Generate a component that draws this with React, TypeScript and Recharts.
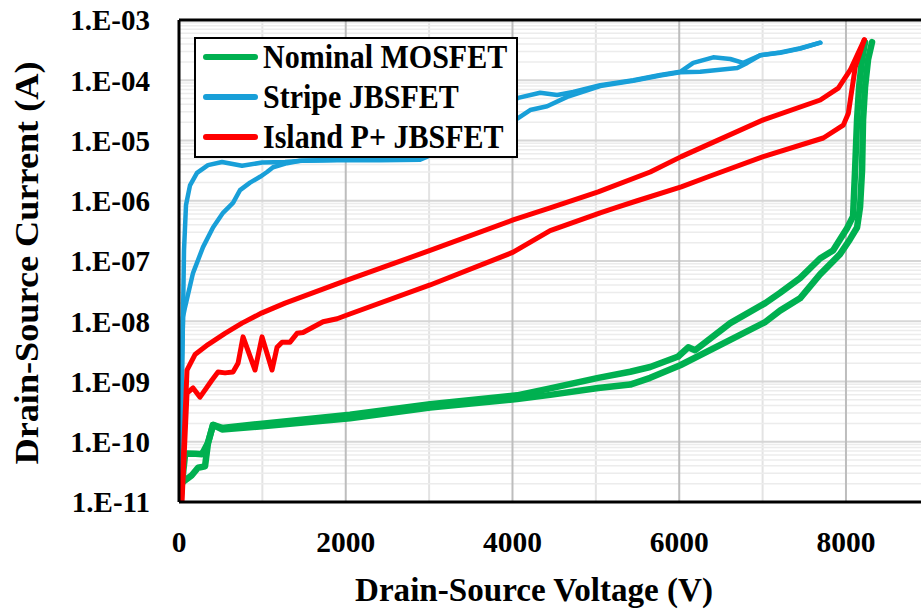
import { LineChart, Line, XAxis, YAxis, ReferenceLine, Legend } from "recharts";

// Drain-Source voltage (V) / current (A), two sweeps per device
const nominalAV = [12, 72, 96, 200, 276, 348, 408, 516, 1000, 2051, 3012, 4054, 4452, 5028, 5412, 5652, 5988, 6108, 6190, 6612, 7032, 7209, 7449, 7689, 7845, 8013, 8085, 8109, 8133, 8157, 8193, 8229];
const nominalAI = [1e-11, 6.0e-11, 6.4e-11, 6.3e-11, 6.2e-11, 9.6e-11, 1.9e-10, 1.7e-10, 2.0e-10, 2.8e-10, 4.2e-10, 5.9e-10, 7.7e-10, 1.15e-9, 1.45e-9, 1.74e-9, 2.6e-9, 3.7e-9, 3.3e-9, 9.3e-9, 2.0e-8, 2.95e-8, 5.2e-8, 1.1e-7, 1.5e-7, 3.5e-7, 5.5e-7, 3.2e-6, 2.2e-5, 7.7e-5, 2.2e-4, 4.3e-4];

const nominalBV = [0, 36, 156, 228, 312, 348, 408, 516, 1000, 2051, 3012, 4054, 4452, 5028, 5412, 5652, 6012, 6612, 7032, 7209, 7449, 7689, 7929, 8049, 8133, 8169, 8193, 8205, 8229, 8265, 8313];
const nominalBI = [1e-11, 2.1e-11, 2.8e-11, 3.7e-11, 3.9e-11, 9.6e-11, 1.9e-10, 1.6e-10, 1.8e-10, 2.45e-10, 3.7e-10, 5.1e-10, 6.0e-10, 7.8e-10, 8.9e-10, 1.15e-9, 1.86e-9, 4.9e-9, 9.7e-9, 1.5e-8, 2.4e-8, 6.0e-8, 1.3e-7, 2.3e-7, 3.6e-7, 7.9e-7, 3.2e-6, 2.2e-5, 7.7e-5, 2.2e-4, 4.3e-4];

const stripeAV = [2, 24, 48, 60, 84, 132, 216, 348, 516, 756, 996, 1272, 1476, 1896, 2412, 2892, 4068, 4332, 4536, 4728, 5052, 5448, 5772, 6012, 6168, 6408, 6612, 6768, 6972, 7212, 7452, 7692];
const stripeAI = [1e-11, 2.2e-10, 1.17e-8, 1.5e-7, 8.5e-7, 1.8e-6, 2.9e-6, 3.9e-6, 4.4e-6, 3.8e-6, 4.3e-6, 4.4e-6, 4.6e-6, 4.8e-6, 4.8e-6, 4.9e-6, 5.1e-5, 6.2e-5, 5.7e-5, 6.4e-5, 8.3e-5, 1.0e-4, 1.22e-4, 1.38e-4, 1.94e-4, 2.4e-4, 2.25e-4, 1.94e-4, 2.6e-4, 2.9e-4, 3.4e-4, 4.2e-4];

const stripeBV = [2, 24, 48, 72, 168, 288, 408, 528, 648, 732, 852, 972, 1056, 1128, 1296, 1452, 1896, 2412, 2892, 4068, 4212, 4416, 4656, 5052, 5448, 5772, 6012, 6252, 6576, 6696, 6816, 6972, 7212, 7452, 7692];
const stripeBI = [1e-11, 2.2e-10, 1.17e-8, 1.7e-8, 6.3e-8, 1.7e-7, 3.6e-7, 6.3e-7, 9.2e-7, 1.5e-6, 2.0e-6, 2.5e-6, 3.0e-6, 3.6e-6, 4.2e-6, 4.6e-6, 4.7e-6, 4.7e-6, 4.8e-6, 2.35e-5, 3.2e-5, 3.7e-5, 5.3e-5, 8.0e-5, 9.8e-5, 1.2e-4, 1.36e-4, 1.38e-4, 1.54e-4, 1.6e-4, 1.94e-4, 2.6e-4, 2.85e-4, 3.35e-4, 4.2e-4];

const islandAV = [30, 96, 192, 348, 552, 756, 996, 1272, 2016, 3012, 4008, 4452, 5028, 5652, 6024, 7008, 7692, 7908, 8052, 8220];
const islandAI = [1e-11, 1.55e-9, 2.8e-9, 4.1e-9, 6.3e-9, 9.3e-9, 1.38e-8, 2.0e-8, 4.8e-8, 1.5e-7, 4.8e-7, 7.6e-7, 1.4e-6, 3.0e-6, 5.4e-6, 2.2e-5, 4.7e-5, 7.4e-5, 1.48e-4, 4.7e-4];

const islandBV = [36, 96, 168, 252, 396, 468, 552, 648, 708, 768, 912, 996, 1116, 1176, 1236, 1332, 1416, 1488, 1728, 1896, 2016, 3012, 4008, 4452, 5052, 5232, 5496, 6024, 6348, 7008, 7728, 7968, 8028, 8112, 8220];
const islandBI = [1e-11, 6.4e-10, 7.8e-10, 5.5e-10, 1.06e-9, 1.44e-9, 1.39e-9, 1.44e-9, 2.0e-9, 5.5e-9, 1.55e-9, 5.5e-9, 1.55e-9, 3.7e-9, 4.5e-9, 4.5e-9, 6.3e-9, 6.5e-9, 9.8e-9, 1.1e-8, 1.27e-8, 4.0e-8, 1.4e-7, 3.2e-7, 6.3e-7, 7.6e-7, 1.0e-6, 1.7e-6, 2.5e-6, 5.4e-6, 1.1e-5, 1.8e-5, 2.8e-5, 1.66e-4, 4.7e-4];

const xTicks = [0, 2000, 4000, 6000, 8000];
const xMinor = [1000, 3000, 5000, 7000];
const yTicks = [1e-11, 1e-10, 1e-9, 1e-8, 1e-7, 1e-6, 1e-5, 1e-4, 1e-3];
const yTickLabels = ["1.E-11", "1.E-10", "1.E-09", "1.E-08", "1.E-07", "1.E-06", "1.E-05", "1.E-04", "1.E-03"];

const GREEN = "#00b050";
const BLUE = "#189fd8";
const RED = "#ff0000";

const legendItems = [
  { name: "Nominal MOSFET", color: GREEN },
  { name: "Stripe JBSFET", color: BLUE },
  { name: "Island P+ JBSFET", color: RED },
];

const toRows = (v: number[], i: number[]) => v.map((x, k) => ({ v: x, i: i[k] }));

const FONT = '"Liberation Serif", "Times New Roman", serif';

// minor log grid: 2..9 within each decade
const yMinor = yTicks.slice(0, -1).flatMap((d) => [2, 3, 4, 5, 6, 7, 8, 9].map((k) => k * d));

const LegendBox = () => (
  <div
    style={{
      boxSizing: "border-box",
      width: 324,
      height: 121,
      border: "2px solid #000",
      background: "#fff",
    }}
  >
    {legendItems.map((it, idx) => (
      <div
        key={it.name}
        style={{
          display: "flex",
          alignItems: "center",
          height: 40,
          marginTop: idx === 0 ? -2 : 0,
        }}
      >
        <span
          style={{
            display: "inline-block",
            width: 55,
            height: 6,
            borderRadius: 3,
            background: it.color,
            marginLeft: 7,
            marginRight: 5,
          }}
        />
        <span
          style={{
            fontFamily: FONT,
            fontWeight: "bold",
            fontSize: 30,
            lineHeight: "40px",
            color: "#000",
            whiteSpace: "nowrap",
            display: "inline-block",
            transform: "scaleY(1.1)",
          }}
        >
          {it.name}
        </span>
      </div>
    ))}
  </div>
);

const XTitle = () => (
  <text
    x={534}
    y={601}
    textAnchor="middle"
    textLength={358}
    lengthAdjust="spacingAndGlyphs"
    fontFamily={FONT}
    fontWeight="bold"
    fontSize={33}
    fill="#000"
  >
    Drain-Source Voltage (V)
  </text>
);

const YTitle = () => (
  <text
    x={27}
    y={263}
    transform="rotate(-90 27 263)"
    textAnchor="middle"
    dominantBaseline="central"
    textLength={403}
    lengthAdjust="spacingAndGlyphs"
    fontFamily={FONT}
    fontWeight="bold"
    fontSize={33}
    fill="#000"
  >
    Drain-Source Current (A)
  </text>
);

const App = () => {
  const series = [
    { key: "nA", data: toRows(nominalAV, nominalAI), color: GREEN, w: 6.5 },
    { key: "nB", data: toRows(nominalBV, nominalBI), color: GREEN, w: 6.5 },
    { key: "sA", data: toRows(stripeAV, stripeAI), color: BLUE, w: 4.5 },
    { key: "sB", data: toRows(stripeBV, stripeBI), color: BLUE, w: 4.5 },
    { key: "iA", data: toRows(islandAV, islandAI), color: RED, w: 5 },
    { key: "iB", data: toRows(islandBV, islandBI), color: RED, w: 5 },
  ];

  return (
    <div style={{ position: "absolute", left: 0, top: 0, width: 921, height: 611, background: "#fff" }}>
      <LineChart width={921} height={611} margin={{ top: 20, right: 0, left: 0, bottom: 0 }}>
        {xMinor.map((x) => (
          <ReferenceLine key={`xm${x}`} x={x} stroke="#e3e3e3" strokeWidth={2} />
        ))}
        {yMinor.map((y) => (
          <ReferenceLine key={`ym${y}`} y={y} stroke="#ececec" strokeWidth={1.5} />
        ))}
        {yTicks.map((y) => (
          <ReferenceLine key={`yM${y}`} y={y} stroke="#d6d6d6" strokeWidth={2} />
        ))}
        {xTicks.slice(1).map((x) => (
          <ReferenceLine key={`xM${x}`} x={x} stroke="#bdbdbd" strokeWidth={2} />
        ))}
        <ReferenceLine y={1e-3} stroke="#000" strokeWidth={3} />
        <XAxis
          dataKey="v"
          type="number"
          domain={[0, 8900]}
          allowDataOverflow
          ticks={xTicks}
          height={109}
          tickLine={false}
          tickSize={0}
          tickMargin={29}
          axisLine={{ stroke: "#000", strokeWidth: 3 }}
          tick={{ fontFamily: FONT, fontWeight: "bold", fontSize: 29.5, fill: "#000" }}
          label={<XTitle />}
        />
        <YAxis
          type="number"
          scale="log"
          domain={[1e-11, 1e-3]}
          allowDataOverflow
          ticks={yTicks}
          width={179}
          tickLine={false}
          tickSize={0}
          tickMargin={29}
          axisLine={{ stroke: "#000", strokeWidth: 3 }}
          tick={{ fontFamily: FONT, fontWeight: "bold", fontSize: 29, fill: "#000" }}
          tickFormatter={(v: number) => yTickLabels[yTicks.findIndex((t) => Math.abs(t - v) / t < 1e-6)] ?? ""}
          label={<YTitle />}
        />
        {series.map((s) => (
          <Line
            key={s.key}
            data={s.data}
            dataKey="i"
            type="linear"
            stroke={s.color}
            strokeWidth={s.w}
            strokeLinejoin="round"
            strokeLinecap="round"
            dot={false}
            activeDot={false}
            isAnimationActive={false}
          />
        ))}
        <Legend
          layout="vertical"
          align="center"
          verticalAlign="middle"
          content={<LegendBox />}
          wrapperStyle={{ position: "absolute", left: 194, top: 37, width: 324, height: 121 }}
        />
      </LineChart>
    </div>
  );
};

export default App;
